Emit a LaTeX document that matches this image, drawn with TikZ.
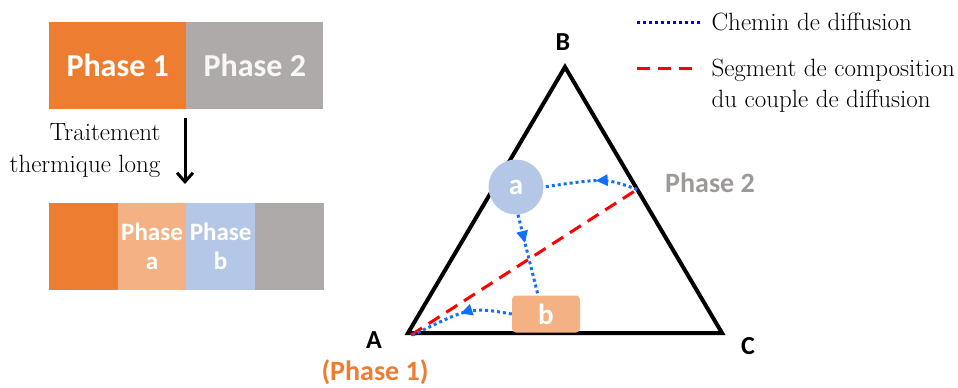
\documentclass[tikz,border=0pt]{standalone}
\usepackage{fontspec}
\setsansfont{Carlito}
\usetikzlibrary{arrows.meta, positioning, calc, decorations.markings}
\definecolor{ph1}{HTML}{ED7D31}
\definecolor{ph2}{HTML}{AEAAAA}
\definecolor{pha}{HTML}{F4B183}
\definecolor{phb}{HTML}{B4C7E7}
\definecolor{diff}{HTML}{1170F5}

\begin{document}
\begin{tikzpicture}[
    x=1pt, y=-1pt,
    blk/.style={rectangle, minimum height=87pt, inner sep=0pt, anchor=north west, text=white, align=center,
      font=\sffamily\bfseries\fontsize{25}{29}\selectfont},
    bigblk/.style={blk, minimum width=137pt, font=\sffamily\bfseries\fontsize{32}{36}\selectfont},
    smallblk/.style={blk, minimum width=68.5pt},
    vtx/.style={font=\sffamily\bfseries\fontsize{26}{30}\selectfont},
    phlab/.style={font=\sffamily\bfseries\fontsize{28}{32}\selectfont},
    txt/.style={font=\fontsize{25}{32}\selectfont, align=left},
    diffpath/.style={draw=diff, line width=3pt, dash pattern=on 3pt off 3pt},
    midarr/.style={postaction={decorate}, decoration={markings,
      mark=at position #1 with {\arrow{Triangle[length=12pt,width=11pt]}}}},
    seg/.style={draw=red, line width=3pt, dash pattern=on 13pt off 8pt},
  ]
  \useasboundingbox (0,0) rectangle (958,388);
  % ------------------------------------------------------------------ couple before and after the treatment
  \node[bigblk, fill=ph1] (p1) at (49,22) {Phase 1};
  \node[bigblk, fill=ph2, text=white!97!black] (p2) at ([xshift=-0.3]p1.north east) {Phase 2};
  \node[smallblk, fill=ph1] (q1) at (49,203) {};
  \node[smallblk, fill=pha] (qa) at ([xshift=-0.3]q1.north east) {Phase\\a};
  \node[smallblk, fill=phb] (qb) at ([xshift=-0.3]qa.north east) {Phase\\b};
  \node[smallblk, fill=ph2] (q2) at ([xshift=-0.3]qb.north east) {};
  \coordinate (t0) at (185,118);
  \coordinate (t1) at (185,184);
  \draw[-{Straight Barb[length=9pt,width=16pt]}, line width=3pt] (t0) -- (t1);
  \node[txt, align=right, anchor=east] (trt) at (164,151) {Traitement\\thermique long};
  % ------------------------------------------------------------------ ternary triangle
  \coordinate (A) at (408,333);
  \coordinate (B) at (565,67);
  \coordinate (C) at (722,333);
  \draw[line width=4pt, line join=miter] (A) -- (B) -- (C) -- cycle;
  \node[vtx] (lA) at (374,340) {A};
  \node[vtx] (lB) at (563,42) {B};
  \node[vtx] (lC) at (748,346) {C};
  \node[phlab, text=ph1] (lp1) at (375,372) {(Phase 1)};
  \coordinate (s2) at ($(B)!0.46!(C)$);
  \node[phlab, text=ph2!90!black] (lp2) at (710,183) {Phase 2};
  \node[circle, fill=phb, minimum size=55pt, inner sep=0pt, text=white, font=\sffamily\bfseries\fontsize{29}{32}\selectfont] (a) at (516,187) {a};
  \node[rectangle, rounded corners=4pt, fill=pha, minimum width=68pt, minimum height=37pt, inner sep=0pt,
    text=white, font=\sffamily\bfseries\fontsize{29}{32}\selectfont] (b) at (546,314) {b};
  % composition segment and diffusion path
  \draw[seg] ([xshift=3,yshift=-2]A) -- (s2);
  \draw[diffpath, midarr=0.45] (s2) .. controls (605,178) .. (a.east);
  \draw[diffpath, midarr=0.35] ([xshift=2]a.south) -- ([xshift=-8]b.north);
  \draw[diffpath, midarr=0.5] (b.west) .. controls (470,307) .. ([xshift=5,yshift=-2]A);
  % ------------------------------------------------------------------ legend
  \node[txt, anchor=west] (leg1) at (708,22) {Chemin de diffusion};
  \draw[draw=blue, line width=3pt, dash pattern=on 3pt off 3pt] ([xshift=-71]leg1.west) -- ([xshift=-8]leg1.west);
  \node[txt, anchor=north west, font=\fontsize{25}{31}\selectfont] (leg2) at (708,55) {Segment de composition\\du couple de diffusion};
  \draw[seg] ([xshift=-71,yshift=-13]leg2.north west) -- ([xshift=-8,yshift=-13]leg2.north west);
\end{tikzpicture}
\end{document}
